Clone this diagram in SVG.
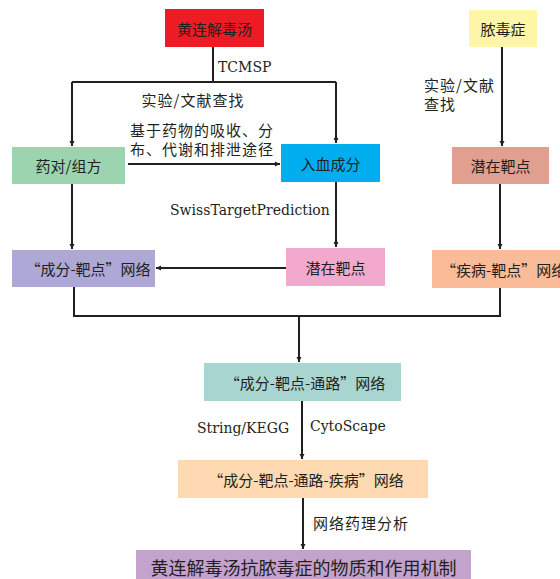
<svg xmlns="http://www.w3.org/2000/svg" width="560" height="579" viewBox="0 0 560 579">
<defs>
<style>
text{font-family:"Noto Sans CJK SC","Liberation Serif",sans-serif;font-size:15px;fill:#231f20}
.c{text-anchor:middle;dominant-baseline:central}
.l{dominant-baseline:central}
.lat{font-family:"DejaVu Serif","Liberation Serif",serif;font-size:14px}
.ln{fill:none;stroke:#231f20;stroke-width:2}
</style>
<clipPath id="cp"><rect x="0" y="0" width="560" height="579"/></clipPath>
<marker id="ah" viewBox="0 0 10 10" refX="10" refY="5" markerWidth="5" markerHeight="7" markerUnits="userSpaceOnUse" orient="auto"><path d="M0,0 L10,5 L0,10 z" fill="#231f20"/></marker>
</defs>
<rect width="560" height="579" fill="#fff"/>
<g id="connectors">
<path class="ln" d="M213,47 V82"/>
<path class="ln" d="M72,82 H336"/>
<path class="ln" d="M72,82 V146" marker-end="url(#ah)"/>
<path class="ln" d="M336,82 V143" marker-end="url(#ah)"/>
<path class="ln" d="M128,164 H280" marker-end="url(#ah)"/>
<path class="ln" d="M502,47 V146" marker-end="url(#ah)"/>
<path class="ln" d="M72,184 V249" marker-end="url(#ah)"/>
<path class="ln" d="M336,182 V247" marker-end="url(#ah)"/>
<path class="ln" d="M500,184 V249" marker-end="url(#ah)"/>
<path class="ln" d="M286,268 H156" marker-end="url(#ah)"/>
<path class="ln" d="M74,287 V316 H500 V288"/>
<path class="ln" d="M299,316 V362" marker-end="url(#ah)"/>
<path class="ln" d="M302,401 V459" marker-end="url(#ah)"/>
<path class="ln" d="M303,498 V549" marker-end="url(#ah)"/>
<text class="l lat" x="218" y="67">TCMSP</text>
<text class="c" x="193" y="99" letter-spacing="1">实验/文献查找</text>
<text class="l" x="130" y="129" letter-spacing="1">基于药物的吸收、分</text>
<text class="l" x="130" y="148" letter-spacing="1">布、代谢和排泄途径</text>
<text class="l" x="424" y="84" letter-spacing="1">实验/文献</text>
<text class="l" x="424" y="103" letter-spacing="1">查找</text>
<text class="l lat" x="170" y="210">SwissTargetPrediction</text>
<text class="l lat" x="197" y="428">String/KEGG</text>
<text class="l lat" x="310" y="426">CytoScape</text>
<text class="l" x="313" y="522" letter-spacing="1">网络药理分析</text>
</g>
<g id="n1"><rect x="165" y="9" width="99" height="38" fill="#ed1c24"/><text class="c" x="214.5" y="28">黄连解毒汤</text></g>
<g id="n2"><rect x="469" y="10" width="68" height="37" fill="#fff6a8"/><text class="c" x="503" y="28.5">脓毒症</text></g>
<g id="n3"><rect x="12" y="147" width="113" height="37" fill="#9cd4b0"/><text class="c" x="68.5" y="165.5">药对/组方</text></g>
<g id="n4"><rect x="281" y="144" width="99" height="38" fill="#00aeef"/><text class="c" x="330.5" y="163">入血成分</text></g>
<g id="n5"><rect x="452" y="147" width="97" height="37" fill="#e19f8f"/><text class="c" x="500.5" y="165.5">潜在靶点</text></g>
<g id="n6"><rect x="12" y="250" width="143" height="37" fill="#aea8d7"/><text class="c" x="88" y="268.5">“成分-靶点”网络</text></g>
<g id="n7"><rect x="286" y="248" width="99" height="38" fill="#f3a8cd"/><text class="c" x="335.5" y="267">潜在靶点</text></g>
<g id="n8" clip-path="url(#cp)"><rect x="432" y="250" width="140" height="38" fill="#f9bb98"/><text class="l" x="441" y="269">“疾病-靶点”网络</text></g>
<g id="n9"><rect x="204" y="363" width="197" height="38" fill="#a9d5d1"/><text class="c" x="305" y="382">“成分-靶点-通路”网络</text></g>
<g id="n10"><rect x="178" y="460" width="250" height="38" fill="#fed9b1"/><text class="c" x="306" y="479">“成分-靶点-通路-疾病”网络</text></g>
<g id="n11"><rect x="136" y="550" width="335" height="32" fill="#c3a2cd"/><text class="c" x="303.5" y="567" style="font-size:18px">黄连解毒汤抗脓毒症的物质和作用机制</text></g>
</svg>
